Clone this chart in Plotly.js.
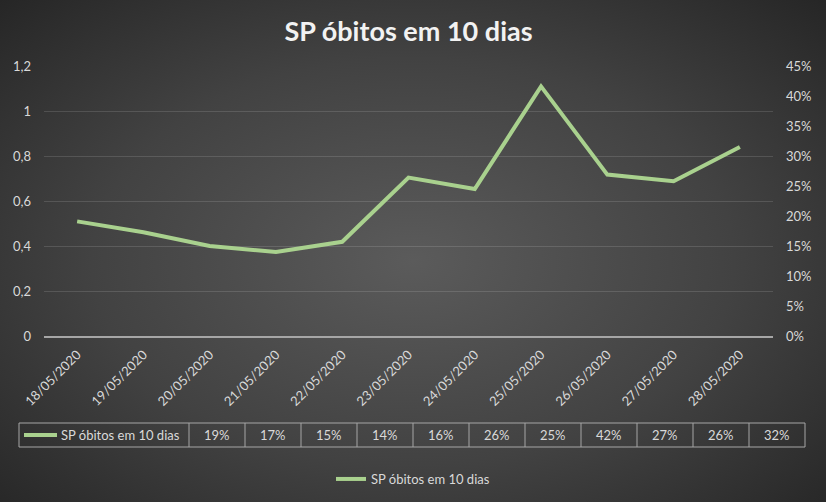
<!DOCTYPE html>
<html>
<head>
<meta charset="utf-8">
<script src="https://cdn.plot.ly/plotly-3.0.1.min.js"></script>
<style>
  html, body { margin: 0; padding: 0; }
  #chart {
    width: 826px; height: 502px;
    background: radial-gradient(ellipse at 50% 52%, #5b5b5b 0%, #424242 55%, #262626 100%);
  }
</style>
</head>
<body>
<div id="chart"></div>
<script>
// SP deaths, 10-day variation
const dates = ['18/05/2020', '19/05/2020', '20/05/2020', '21/05/2020', '22/05/2020',
  '23/05/2020', '24/05/2020', '25/05/2020', '26/05/2020', '27/05/2020', '28/05/2020'];
const variation = [0.191, 0.173, 0.150, 0.140, 0.157, 0.264, 0.245, 0.416, 0.269, 0.258, 0.315];
const tableLabels = ['19%', '17%', '15%', '14%', '16%', '26%', '25%', '42%', '27%', '26%', '32%'];
const seriesName = 'SP óbitos em 10 dias';

const COLORS = {
  line: '#A9D18E',
  text: '#D9D9D9',
  grid: 'rgba(255,255,255,0.13)',
  axis: '#A6A6A6',
  table: '#A6A6A6'
};
const FONT = 'Lato, "Noto Sans", sans-serif';

// plot area in pixels
const W = 826, H = 502;
const PL = 44, PR = 773, PT = 66, PB = 336;
const px = x => (x - PL) / (PR - PL);
const py = y => (PB - y) / (PB - PT);

// data table under the axis (Excel style, shifted to the right)
const tTop = 423, tBot = 447, tLeft = 19, tFirst = 189, tCol = 56;
const tRight = tFirst + tCol * tableLabels.length;

const shapes = [{
  type: 'rect', xref: 'paper', yref: 'paper',
  x0: px(tLeft), x1: px(tRight), y0: py(tBot), y1: py(tTop),
  line: { color: COLORS.table, width: 1 }
}];
for (let i = 0; i < tableLabels.length; i++) {
  const xl = tFirst + i * tCol;
  shapes.push({
    type: 'line', xref: 'paper', yref: 'paper',
    x0: px(xl), x1: px(xl), y0: py(tBot), y1: py(tTop),
    line: { color: COLORS.table, width: 1 }
  });
}
// legend key inside the table
shapes.push({
  type: 'line', xref: 'paper', yref: 'paper',
  x0: px(24), x1: px(57), y0: py(435), y1: py(435),
  line: { color: COLORS.line, width: 4 }
});

const annotations = [{
  xref: 'paper', yref: 'paper', x: px(59), y: py(435),
  xanchor: 'left', yanchor: 'middle', showarrow: false,
  text: seriesName, font: { family: FONT, size: 13, color: COLORS.text }
}];
tableLabels.forEach((label, i) => {
  annotations.push({
    xref: 'paper', yref: 'paper', x: px(tFirst + tCol * i + tCol / 2), y: py(435),
    xanchor: 'center', yanchor: 'middle', showarrow: false,
    text: label, font: { family: FONT, size: 13, color: COLORS.text }
  });
});

const data = [
  {
    // empty helper so the primary (left) axis gets drawn
    x: dates,
    y: dates.map(() => null),
    yaxis: 'y',
    type: 'scatter',
    mode: 'lines',
    showlegend: false,
    hoverinfo: 'skip'
  },
  {
    x: dates,
    y: variation,
    yaxis: 'y2',
    type: 'scatter',
    mode: 'lines',
    name: seriesName,
    line: { color: COLORS.line, width: 4 },
    hovertemplate: '%{x}<br>%{y:.0%}<extra></extra>'
  }
];

const layout = {
  width: W, height: H,
  paper_bgcolor: 'rgba(0,0,0,0)',
  plot_bgcolor: 'rgba(0,0,0,0)',
  separators: ',.',
  margin: { l: PL, r: W - PR, t: PT, b: H - PB, pad: 0 },
  font: { family: FONT, color: COLORS.text, size: 13 },
  title: {
    text: '<b>' + seriesName + '</b>',
    x: 0.5, xref: 'paper', xanchor: 'center',
    y: 1 - 32 / H, yanchor: 'middle',
    font: { family: FONT, size: 27, color: '#F2F2F2' }
  },
  xaxis: {
    type: 'category',
    range: [-0.5, dates.length - 0.5],
    tickangle: -45,
    showgrid: false,
    showline: true,
    linecolor: COLORS.axis,
    linewidth: 2,
    ticks: '',
    ticklabelstandoff: 4,
    tickfont: { family: FONT, size: 13, color: COLORS.text },
    fixedrange: true
  },
  yaxis: {
    range: [0, 1.2],
    autorange: false,
    dtick: 0.2,
    tick0: 0,
    showgrid: true,
    gridcolor: COLORS.grid,
    gridwidth: 1,
    zeroline: false,
    ticks: '',
    ticklabelstandoff: 12,
    tickfont: { family: FONT, size: 13, color: COLORS.text },
    fixedrange: true
  },
  yaxis2: {
    overlaying: 'y',
    side: 'right',
    range: [0, 0.45],
    autorange: false,
    dtick: 0.05,
    tick0: 0,
    tickformat: '.0%',
    showgrid: false,
    zeroline: false,
    ticks: '',
    ticklabelstandoff: 12,
    tickfont: { family: FONT, size: 13, color: COLORS.text },
    fixedrange: true
  },
  showlegend: true,
  legend: {
    orientation: 'h',
    x: 0.5, xref: 'container', xanchor: 'center',
    y: 1 - 479 / H, yref: 'container', yanchor: 'middle',
    bgcolor: 'rgba(0,0,0,0)',
    font: { family: FONT, size: 13, color: COLORS.text },
    itemwidth: 30
  },
  shapes: shapes,
  annotations: annotations
};

Plotly.newPlot('chart', data, layout, { displayModeBar: false });
</script>
</body>
</html>
